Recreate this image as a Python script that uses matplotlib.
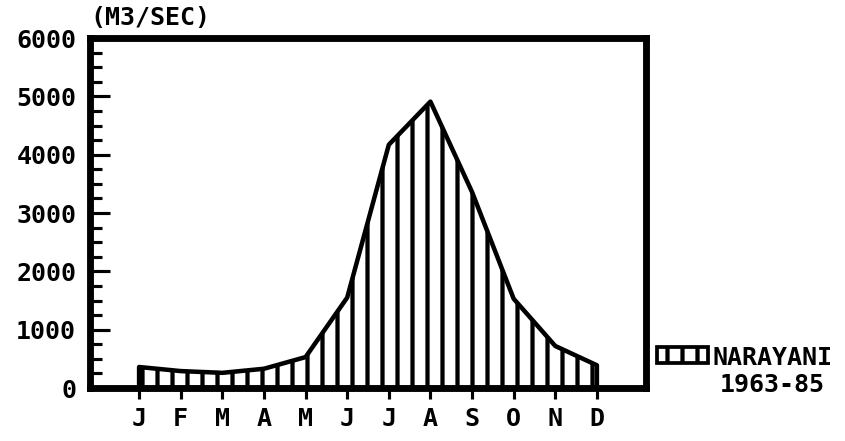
import matplotlib
matplotlib.use('Agg')
import matplotlib.pyplot as plt
from matplotlib.patches import Rectangle
import numpy as np

# mean monthly discharge, m3/sec
months = ['J', 'F', 'M', 'A', 'M', 'J', 'J', 'A', 'S', 'O', 'N', 'D']
flow = [360, 290, 260, 330, 530, 1550, 4170, 4910, 3360, 1530, 720, 390]
yticks = [0, 1000, 2000, 3000, 4000, 5000, 6000]
unit_label = '(M3/SEC)'
station = 'NARAYANI'
period = '1963-85'

plt.rcParams['font.family'] = 'DejaVu Sans Mono'
plt.rcParams['font.weight'] = 'bold'
plt.rcParams['hatch.linewidth'] = 3.4

dpi = 90
fig = plt.figure(figsize=(845 / dpi, 441 / dpi), dpi=dpi)
ax = fig.add_axes([90 / 845, 1 - 388 / 441, 556 / 845, 350 / 441])

x = np.arange(len(months))
ax.fill_between(x, flow, 0, facecolor='white', edgecolor='black',
                hatch='|', linewidth=3.6)

ax.set_xlim(-1.18, 12.18)
ax.set_ylim(0, 6000)
ax.set_xticks(x)
ax.set_xticklabels(months)
ax.set_yticks(yticks)
ax.set_yticks(np.arange(0, 6001, 250), minor=True)
ax.tick_params(axis='x', which='major', direction='out', length=9, width=2.5,
               pad=6, labelsize=20)
ax.tick_params(axis='x', which='minor', bottom=False)
ax.tick_params(axis='y', which='major', direction='in', length=16, width=2.5,
               pad=11, labelsize=20)
ax.tick_params(axis='y', which='minor', direction='in', length=9.5, width=2.5)
for s in ax.spines.values():
    s.set_linewidth(5.5)

fig.text(90 / 845, 1 - 18 / 441, unit_label, fontsize=20, va='center', ha='left')

# legend drawn by hand next to the frame
key = Rectangle((657 / 845, 1 - 363 / 441), 51 / 845, 16 / 441,
                transform=fig.transFigure, facecolor='white',
                edgecolor='black', hatch='|', linewidth=3)
fig.patches.append(key)
fig.text(712 / 845, 1 - 358 / 441, station, fontsize=20, va='center', ha='left')
fig.text(772 / 845, 1 - 385 / 441, period, fontsize=20, va='center', ha='center')

fig.savefig('out.png', dpi=dpi)
